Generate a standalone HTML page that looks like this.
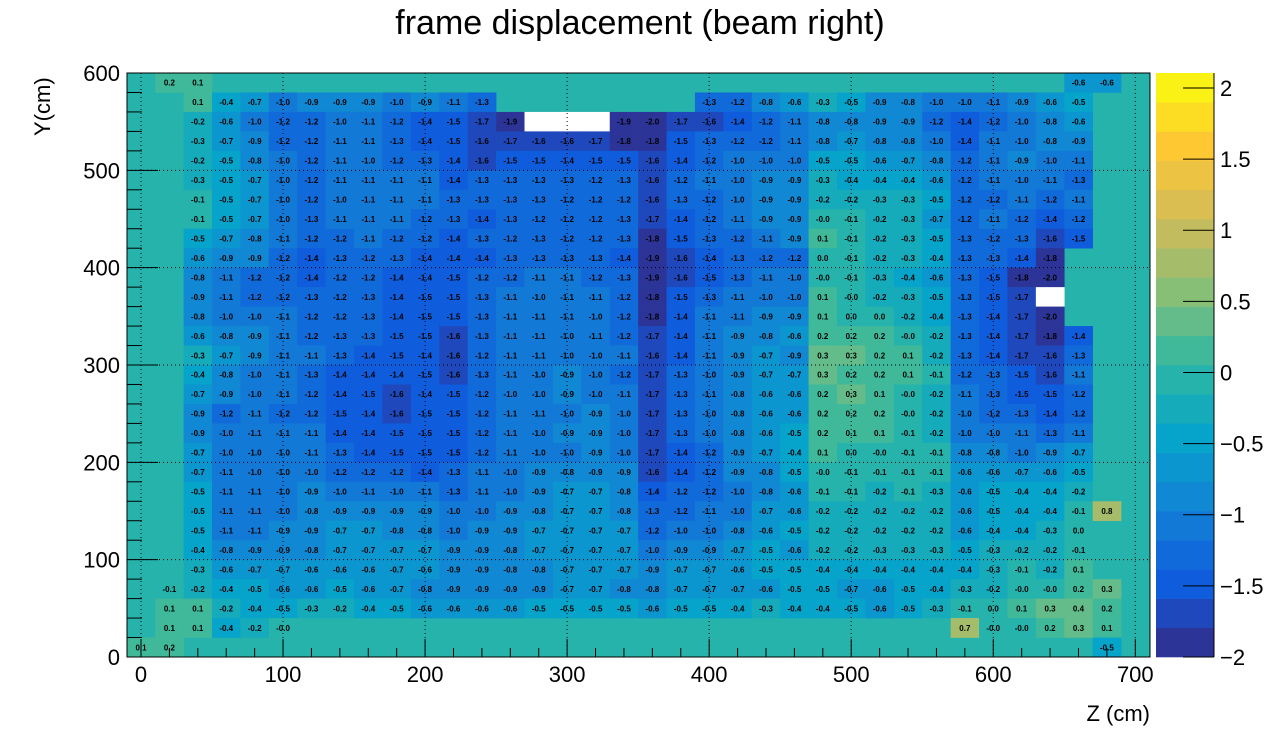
<!DOCTYPE html>
<html><head><meta charset="utf-8"><style>
body{margin:0;background:#fff;}
svg text{font-family:"Liberation Sans",sans-serif;}
</style></head><body>
<svg id="chart" width="1278" height="729" xmlns="http://www.w3.org/2000/svg">
<text x="640" y="34" font-size="34" text-anchor="middle">frame displacement (beam right)</text>
<g id="plot"></g>
<text x="1150" y="721" font-size="22" text-anchor="end">Z (cm)</text>
<text transform="translate(50,136) rotate(-90)" font-size="22">Y(cm)</text>
<text transform="translate(1284,73) rotate(90)" font-size="22">dY (cm)</text>
</svg>
<script>
const N = null, U = -2.5;
const xTicks = [0,100,200,300,400,500,600,700];
const yTicks = [0,100,200,300,400,500,600];
const zTicks = [2,1.5,1,0.5,0,-0.5,-1,-1.5,-2];
const zTickLabels = ["2","1.5","1","0.5","0","\u22120.5","\u22121","\u22121.5","\u22122"];
const zMin = -2, zMax = 2.105, nBands = 20;
const row00=[N,0.2,0.1,N,N,N,N,N,N,N,N,N,N,N,N,N,N,N,N,N,N,N,N,N,N,N,N,N,N,N,N,N,N,-0.6,-0.6,N];
const row01=[N,N,0.1,-0.4,-0.7,-1.0,-0.9,-0.9,-0.9,-1.0,-0.9,-1.1,-1.3,N,N,N,N,N,N,N,-1.3,-1.2,-0.8,-0.6,-0.3,-0.5,-0.9,-0.8,-1.0,-1.0,-1.1,-0.9,-0.6,-0.5,N,N];
const row02=[N,N,-0.2,-0.6,-1.0,-1.2,-1.2,-1.0,-1.1,-1.2,-1.4,-1.5,-1.7,-1.9,U,U,U,-1.9,-2.0,-1.7,-1.6,-1.4,-1.2,-1.1,-0.8,-0.8,-0.9,-0.9,-1.2,-1.4,-1.2,-1.0,-0.8,-0.6,N,N];
const row03=[N,N,-0.3,-0.7,-0.9,-1.2,-1.2,-1.1,-1.1,-1.3,-1.4,-1.5,-1.6,-1.7,-1.6,-1.6,-1.7,-1.8,-1.8,-1.5,-1.3,-1.2,-1.2,-1.1,-0.8,-0.7,-0.8,-0.8,-1.0,-1.4,-1.1,-1.0,-0.8,-0.9,N,N];
const row04=[N,N,-0.2,-0.5,-0.8,-1.0,-1.2,-1.1,-1.0,-1.2,-1.3,-1.4,-1.6,-1.5,-1.5,-1.4,-1.5,-1.5,-1.6,-1.4,-1.2,-1.0,-1.0,-1.0,-0.5,-0.5,-0.6,-0.7,-0.8,-1.2,-1.1,-0.9,-1.0,-1.1,N,N];
const row05=[N,N,-0.3,-0.5,-0.7,-1.0,-1.2,-1.1,-1.1,-1.1,-1.1,-1.4,-1.3,-1.3,-1.3,-1.3,-1.2,-1.3,-1.6,-1.2,-1.1,-1.0,-0.9,-0.9,-0.3,-0.4,-0.4,-0.4,-0.6,-1.2,-1.1,-1.0,-1.1,-1.3,N,N];
const row06=[N,N,-0.1,-0.5,-0.7,-1.0,-1.2,-1.0,-1.1,-1.1,-1.1,-1.3,-1.3,-1.3,-1.3,-1.2,-1.2,-1.2,-1.6,-1.3,-1.2,-1.0,-0.9,-0.9,-0.2,-0.2,-0.3,-0.3,-0.5,-1.2,-1.2,-1.1,-1.2,-1.1,N,N];
const row07=[N,N,-0.1,-0.5,-0.7,-1.0,-1.3,-1.1,-1.1,-1.1,-1.2,-1.3,-1.4,-1.3,-1.2,-1.2,-1.2,-1.3,-1.7,-1.4,-1.2,-1.1,-0.9,-0.9,-0.0,-0.1,-0.2,-0.3,-0.7,-1.2,-1.1,-1.2,-1.4,-1.2,N,N];
const row08=[N,N,-0.5,-0.7,-0.8,-1.1,-1.2,-1.2,-1.1,-1.2,-1.2,-1.4,-1.3,-1.2,-1.3,-1.2,-1.2,-1.3,-1.8,-1.5,-1.3,-1.2,-1.1,-0.9,0.1,-0.1,-0.2,-0.3,-0.5,-1.3,-1.2,-1.3,-1.6,-1.5,N,N];
const row09=[N,N,-0.6,-0.9,-0.9,-1.2,-1.4,-1.3,-1.2,-1.3,-1.4,-1.4,-1.4,-1.3,-1.3,-1.3,-1.3,-1.4,-1.9,-1.6,-1.4,-1.3,-1.2,-1.2,0.0,-0.1,-0.2,-0.3,-0.4,-1.3,-1.3,-1.4,-1.8,N,N,N];
const row10=[N,N,-0.8,-1.1,-1.2,-1.2,-1.4,-1.2,-1.2,-1.4,-1.4,-1.5,-1.2,-1.2,-1.1,-1.1,-1.2,-1.3,-1.9,-1.6,-1.5,-1.3,-1.1,-1.0,-0.0,-0.1,-0.3,-0.4,-0.6,-1.3,-1.5,-1.8,-2.0,N,N,N];
const row11=[N,N,-0.9,-1.1,-1.2,-1.2,-1.3,-1.2,-1.3,-1.4,-1.5,-1.5,-1.3,-1.1,-1.0,-1.1,-1.1,-1.2,-1.8,-1.5,-1.3,-1.1,-1.0,-1.0,0.1,-0.0,-0.2,-0.3,-0.5,-1.3,-1.5,-1.7,U,N,N,N];
const row12=[N,N,-0.8,-1.0,-1.0,-1.1,-1.2,-1.2,-1.3,-1.4,-1.5,-1.5,-1.3,-1.1,-1.1,-1.1,-1.0,-1.2,-1.8,-1.4,-1.1,-1.1,-0.9,-0.9,0.1,0.0,0.0,-0.2,-0.4,-1.3,-1.4,-1.7,-2.0,N,N,N];
const row13=[N,N,-0.6,-0.8,-0.9,-1.1,-1.2,-1.3,-1.3,-1.5,-1.5,-1.6,-1.3,-1.1,-1.1,-1.0,-1.1,-1.2,-1.7,-1.4,-1.1,-0.9,-0.8,-0.6,0.2,0.2,0.2,-0.0,-0.2,-1.3,-1.4,-1.7,-1.8,-1.4,N,N];
const row14=[N,N,-0.3,-0.7,-0.9,-1.1,-1.1,-1.3,-1.4,-1.5,-1.4,-1.6,-1.2,-1.1,-1.1,-1.0,-1.0,-1.1,-1.6,-1.4,-1.1,-0.9,-0.7,-0.9,0.3,0.3,0.2,0.1,-0.2,-1.3,-1.4,-1.7,-1.6,-1.3,N,N];
const row15=[N,N,-0.4,-0.8,-1.0,-1.1,-1.3,-1.4,-1.4,-1.4,-1.5,-1.6,-1.3,-1.1,-1.0,-0.9,-1.0,-1.2,-1.7,-1.3,-1.0,-0.9,-0.7,-0.7,0.3,0.2,0.2,0.1,-0.1,-1.2,-1.3,-1.5,-1.6,-1.1,N,N];
const row16=[N,N,-0.7,-0.9,-1.0,-1.1,-1.2,-1.4,-1.5,-1.6,-1.4,-1.5,-1.2,-1.0,-1.0,-0.9,-1.0,-1.1,-1.7,-1.3,-1.1,-0.8,-0.6,-0.6,0.2,0.3,0.1,-0.0,-0.2,-1.1,-1.3,-1.5,-1.5,-1.2,N,N];
const row17=[N,N,-0.9,-1.2,-1.1,-1.2,-1.2,-1.5,-1.4,-1.6,-1.5,-1.5,-1.2,-1.1,-1.1,-1.0,-0.9,-1.0,-1.7,-1.3,-1.0,-0.8,-0.6,-0.6,0.2,0.2,0.2,-0.0,-0.2,-1.0,-1.2,-1.3,-1.4,-1.2,N,N];
const row18=[N,N,-0.9,-1.0,-1.1,-1.1,-1.1,-1.4,-1.4,-1.5,-1.5,-1.5,-1.2,-1.1,-1.0,-0.9,-0.9,-1.0,-1.7,-1.3,-1.0,-0.8,-0.6,-0.5,0.2,0.1,0.1,-0.1,-0.2,-1.0,-1.0,-1.1,-1.3,-1.1,N,N];
const row19=[N,N,-0.7,-1.0,-1.0,-1.0,-1.1,-1.3,-1.4,-1.5,-1.5,-1.5,-1.2,-1.1,-1.0,-1.0,-0.9,-1.0,-1.7,-1.4,-1.2,-0.9,-0.7,-0.4,0.1,0.0,-0.0,-0.1,-0.1,-0.8,-0.8,-1.0,-0.9,-0.7,N,N];
const row20=[N,N,-0.7,-1.1,-1.0,-1.0,-1.0,-1.2,-1.2,-1.2,-1.4,-1.3,-1.1,-1.0,-0.9,-0.8,-0.9,-0.9,-1.6,-1.4,-1.2,-0.9,-0.8,-0.5,-0.0,-0.1,-0.1,-0.1,-0.1,-0.6,-0.6,-0.7,-0.6,-0.5,N,N];
const row21=[N,N,-0.5,-1.1,-1.1,-1.0,-0.9,-1.0,-1.1,-1.0,-1.1,-1.3,-1.1,-1.0,-0.9,-0.7,-0.7,-0.8,-1.4,-1.2,-1.2,-1.0,-0.8,-0.6,-0.1,-0.1,-0.2,-0.1,-0.3,-0.6,-0.5,-0.4,-0.4,-0.2,N,N];
const row22=[N,N,-0.5,-1.1,-1.1,-1.0,-0.8,-0.9,-0.9,-0.9,-0.9,-1.0,-1.0,-0.9,-0.8,-0.7,-0.7,-0.8,-1.3,-1.2,-1.1,-1.0,-0.7,-0.6,-0.2,-0.2,-0.2,-0.2,-0.2,-0.6,-0.5,-0.4,-0.4,-0.1,0.8,N];
const row23=[N,N,-0.5,-1.1,-1.1,-0.9,-0.9,-0.7,-0.7,-0.8,-0.8,-1.0,-0.9,-0.9,-0.7,-0.7,-0.7,-0.7,-1.2,-1.0,-1.0,-0.8,-0.6,-0.5,-0.2,-0.2,-0.2,-0.2,-0.2,-0.6,-0.4,-0.4,-0.3,0.0,N,N];
const row24=[N,N,-0.4,-0.8,-0.9,-0.9,-0.8,-0.7,-0.7,-0.7,-0.7,-0.9,-0.9,-0.8,-0.7,-0.7,-0.7,-0.7,-1.0,-0.9,-0.9,-0.7,-0.5,-0.6,-0.2,-0.2,-0.3,-0.3,-0.3,-0.5,-0.3,-0.2,-0.2,-0.1,N,N];
const row25=[N,N,-0.3,-0.6,-0.7,-0.7,-0.6,-0.6,-0.6,-0.7,-0.6,-0.9,-0.9,-0.8,-0.8,-0.7,-0.7,-0.7,-0.9,-0.7,-0.7,-0.6,-0.5,-0.5,-0.4,-0.4,-0.4,-0.4,-0.4,-0.4,-0.3,-0.1,-0.2,0.1,N,N];
const row26=[N,-0.1,-0.2,-0.4,-0.5,-0.6,-0.6,-0.5,-0.6,-0.7,-0.8,-0.9,-0.9,-0.9,-0.9,-0.7,-0.7,-0.8,-0.8,-0.7,-0.7,-0.7,-0.6,-0.5,-0.5,-0.7,-0.6,-0.5,-0.4,-0.3,-0.2,-0.0,-0.0,0.2,0.3,N];
const row27=[N,0.1,0.1,-0.2,-0.4,-0.5,-0.3,-0.2,-0.4,-0.5,-0.6,-0.6,-0.6,-0.6,-0.5,-0.5,-0.5,-0.5,-0.6,-0.5,-0.5,-0.4,-0.3,-0.4,-0.4,-0.5,-0.6,-0.5,-0.3,-0.1,0.0,0.1,0.3,0.4,0.2,N];
const row28=[N,0.1,0.1,-0.4,-0.2,-0.0,N,N,N,N,N,N,N,N,N,N,N,N,N,N,N,N,N,N,N,N,N,N,N,0.7,-0.0,-0.0,0.2,0.3,0.1,N];
const row29=[0.1,0.2,N,N,N,N,N,N,N,N,N,N,N,N,N,N,N,N,N,N,N,N,N,N,N,N,N,N,N,N,N,N,N,N,-0.5,N];
const rows=[row00,row01,row02,row03,row04,row05,row06,row07,row08,row09,row10,row11,row12,row13,row14,row15,row16,row17,row18,row19,row20,row21,row22,row23,row24,row25,row26,row27,row28,row29];

const X0=127,X1=1150,Y0=73,Y1=657;
const sx=z=>141+z*(1135.3-141)/700;
const sy=y=>657-y*(657-73)/600;
const sz=v=>657-(v-zMin)*(657-73)/(zMax-zMin);
const st=[0,.125,.25,.375,.5,.625,.75,.875,1];
const R=[.2082,.0592,.0780,.0232,.1802,.5301,.8186,.9956,.9764];
const G=[.1664,.3599,.5041,.6419,.7178,.7492,.7328,.7862,.9832];
const B=[.5293,.8684,.8385,.7914,.6425,.4662,.3499,.1968,.0539];
function bird(t){let i=0;while(i<7&&t>st[i+1])i++;const f=(t-st[i])/(st[i+1]-st[i]);
 const c=a=>Math.round(255*(a[i]+(a[i+1]-a[i])*f));return `rgb(${c(R)},${c(G)},${c(B)})`;}
function bandColor(b){return bird((b+0.5)/nBands);}
function valColor(v){let b=Math.floor((v-zMin)/((zMax-zMin)/nBands));b=Math.max(0,Math.min(nBands-1,b));return bandColor(b);}
const NS="http://www.w3.org/2000/svg";
const g=document.getElementById('plot');
function el(tag,attrs,parent){const e=document.createElementNS(NS,tag);for(const k in attrs)e.setAttribute(k,attrs[k]);(parent||g).appendChild(e);return e;}
let bg=el('rect',{x:X0,y:Y0,width:X1-X0,height:Y1-Y0,fill:valColor(0)});


rows.forEach((row,r)=>{
 const yTop=600-20*r, yBot=yTop-20;
 row.forEach((v,c)=>{
  if(v===null||v===undefined)return;
  const z=c*20;
  const x0=sx(z-10),x1=sx(z+10),ya=sy(yTop),yb=sy(yBot);
  const cell=el('rect',{x:x0,y:ya,width:x1-x0+0.3,height:yb-ya+0.3,fill:v<zMin?'#ffffff':valColor(v)});
  
  
  if(v>=zMin){
   const s=Object.is(v,-0)?'-0.0':v.toFixed(1);
   const t=el('text',{x:(x0+x1)/2,y:(ya+yb)/2+3,'font-size':8,'font-weight':'bold','text-anchor':'middle',fill:'#000'});
   t.textContent=s;
   
   
  }
 });
});
xTicks.forEach(z=>{const l=el('line',{x1:sx(z),x2:sx(z),y1:Y0,y2:Y1,stroke:'#000','stroke-width':1,'stroke-dasharray':'1,3'});
 
 });
yTicks.forEach(y=>{if(y===0||y===600)return;const l=el('line',{x1:X0,x2:X1,y1:sy(y),y2:sy(y),stroke:'#000','stroke-width':1,'stroke-dasharray':'1,3'});
 
 });
const fr=el('rect',{x:X0,y:Y0,width:X1-X0,height:Y1-Y0,fill:'none',stroke:'#000','stroke-width':1});


for(let z=0;z<=710;z+=20){const major=z%100===0;const l=el('line',{x1:sx(z),x2:sx(z),y1:Y1,y2:Y1-(major?18:9),stroke:'#000'});
 
 }
xTicks.forEach(z=>{const t=el('text',{x:sx(z),y:682,'font-size':22,'text-anchor':'middle'});t.textContent=z;
 
 });
for(let y=0;y<=600;y+=20){const major=y%100===0;const l=el('line',{x1:X0,x2:X0+(major?31:15),y1:sy(y),y2:sy(y),stroke:'#000'});
 
 }
yTicks.forEach(y=>{const t=el('text',{x:120,y:sy(y)+8,'font-size':22,'text-anchor':'end'});t.textContent=y;
 
 });
const CB0=1156,CB1=1214;
for(let b=0;b<nBands;b++){const v0=zMin+b*(zMax-zMin)/nBands,v1=v0+(zMax-zMin)/nBands;
 const r=el('rect',{x:CB0,y:sz(v1),width:CB1-CB0,height:sz(v0)-sz(v1)+0.3,fill:bandColor(b)});
 
 }
const cbf=el('line',{x1:CB1,x2:CB1,y1:Y0,y2:Y1,stroke:'#000'});


zTicks.forEach((v,i)=>{const l=el('line',{x1:CB1,x2:CB1-31,y1:sz(v),y2:sz(v),stroke:'#000'});
 
 
 const t=el('text',{x:1220,y:sz(v)+8,'font-size':22});t.textContent=zTickLabels[i];
 
 });
</script>
</body></html>
